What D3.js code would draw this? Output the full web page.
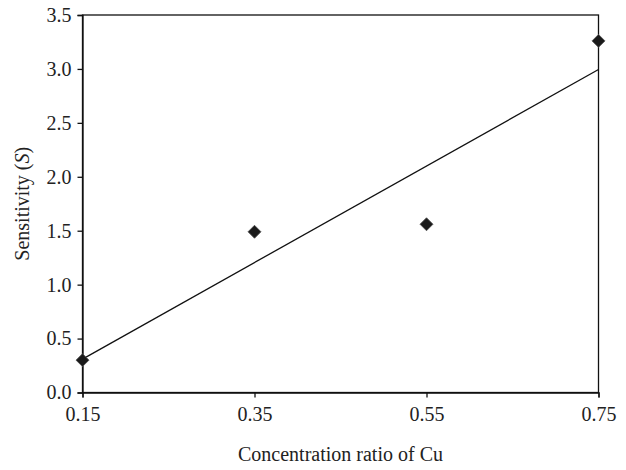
<!DOCTYPE html>
<html>
<head>
  <meta charset="UTF-8">
  <style>
    body { margin: 0; background: #fff; }
    svg { display: block; }
    text { font-family: "Liberation Serif", "DejaVu Serif", serif; fill: #222; }
  </style>
</head>
<body>
<svg></svg>
<script src="https://d3js.org/d3.v7.min.js"></script>
<script>

let width = 626, height = 470;

// data
let ratio = [0.15, 0.35, 0.55, 0.75];
let sensitivity = [0.30, 1.49, 1.56, 3.26];
let xTicks = [0.15, 0.35, 0.55, 0.75];
let yTicks = [0, 0.5, 1.0, 1.5, 2.0, 2.5, 3.0, 3.5];

let margin = {left: 82.5, right: 27.5, top: 15, bottom: 77.5};

let svg = d3.select("svg")
    .attr("width", width)
    .attr("height", height);

let x = d3.scaleLinear()
    .domain([0.15, 0.75])
    .range([margin.left, width - margin.right]);
let y = d3.scaleLinear()
    .domain([0, 3.5])
    .range([height - margin.bottom, margin.top]);

// frame
svg.append("rect")
    .attr("x", x(0.15))
    .attr("y", y(3.5))
    .attr("width", x(0.75) - x(0.15))
    .attr("height", y(0) - y(3.5))
    .attr("fill", "none")
    .attr("stroke", "#111")
    .attr("stroke-width", 1.3);

let xAxis = svg.append("g")
    .attr("transform", "translate(0," + y(0) + ")")
    .call(d3.axisBottom(x).tickValues(xTicks).tickFormat(d3.format(".2f")).tickSize(5).tickPadding(9));
let yAxis = svg.append("g")
    .attr("transform", "translate(" + x(0.15) + ",0)")
    .call(d3.axisLeft(y).tickValues(yTicks).tickFormat(d3.format(".1f")).tickSize(5).tickPadding(6));

[xAxis, yAxis].forEach(a => {
    a.attr("font-size", null).attr("font-family", null);
    a.select(".domain").attr("stroke", "#111").attr("stroke-width", 1.3);
    a.selectAll(".tick line").attr("stroke", "#111").attr("stroke-width", 1.3);
    a.selectAll(".tick text")
        .style("font-family", "'Liberation Serif', serif")
        .style("font-size", "20px")
        .attr("fill", "#222");
});

// linear trend line (least squares)
let mx = d3.mean(ratio), my = d3.mean(sensitivity);
let sxy = d3.sum(ratio, (d, i) => (d - mx) * (sensitivity[i] - my));
let sxx = d3.sum(ratio, d => (d - mx) * (d - mx));
let slope = sxy / sxx, icpt = my - slope * mx;
let trend = [0.15, 0.75].map(v => [v, icpt + slope * v]);

svg.append("path")
    .attr("d", d3.line().x(d => x(d[0])).y(d => y(d[1]))(trend))
    .attr("fill", "none")
    .attr("stroke", "#111")
    .attr("stroke-width", 1.3);

// diamond markers
svg.append("g")
    .selectAll("path")
    .data(ratio)
    .enter()
    .append("path")
    .attr("d", d3.symbol().type(d3.symbolSquare).size(84))
    .attr("transform", (d, i) => "translate(" + x(d) + "," + y(sensitivity[i]) + ") rotate(45)")
    .attr("fill", "#1a1a1a")
    .attr("stroke", "#555")
    .attr("stroke-width", 0.8);

// axis titles
svg.append("text")
    .attr("x", (x(0.15) + x(0.75)) / 2)
    .attr("y", 461)
    .attr("text-anchor", "middle")
    .style("font-size", "20px")
    .text("Concentration ratio of Cu");

let yl = svg.append("text")
    .attr("transform", "translate(29," + (y(1.75)) + ") rotate(-90)")
    .attr("text-anchor", "middle")
    .style("font-size", "20px");
yl.append("tspan").text("Sensitivity (");
yl.append("tspan").style("font-style", "italic").text("S");
yl.append("tspan").text(")");

</script>
</body>
</html>
